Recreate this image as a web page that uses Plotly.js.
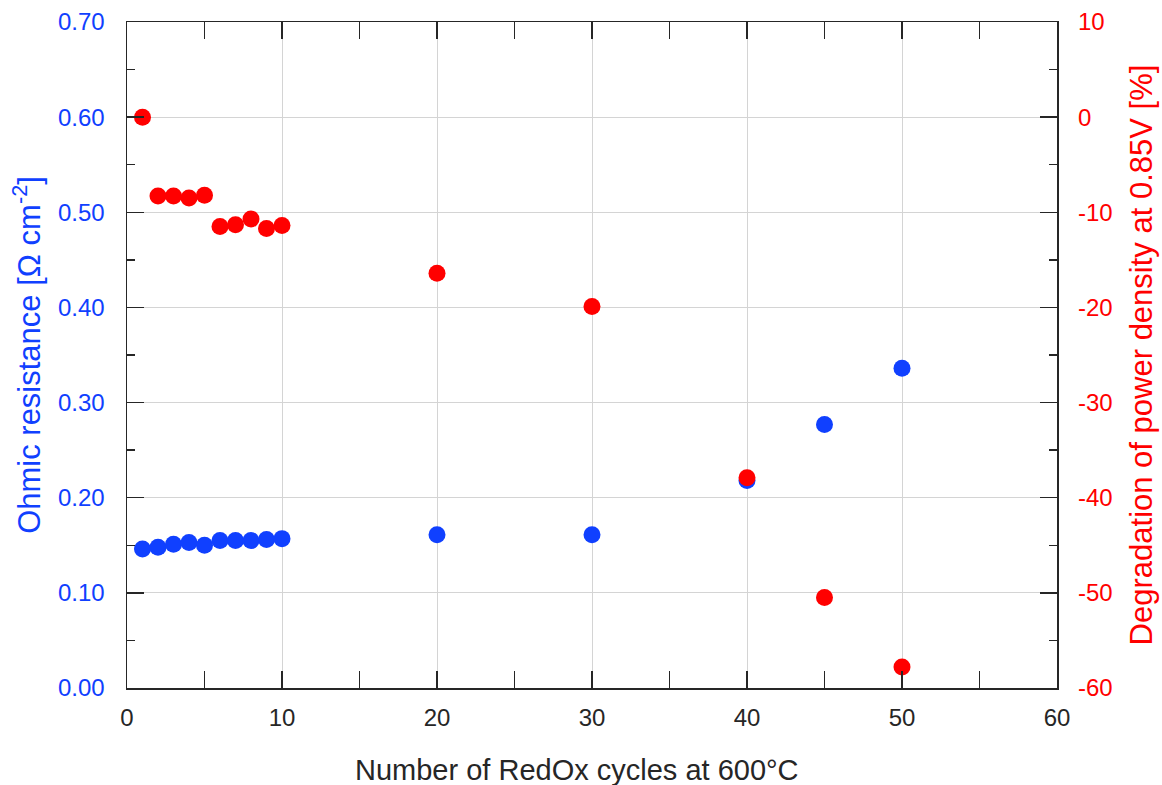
<!DOCTYPE html>
<html>
<head>
<meta charset="utf-8">
<script src="https://cdn.plot.ly/plotly-3.0.1.min.js"></script>
<style>html,body{margin:0;padding:0;background:#fff;}#chart{width:1162px;height:785px;}</style>
</head>
<body>
<div id="chart"></div>
<script>
const cycles = [1, 2, 3, 4, 5, 6, 7, 8, 9, 10, 20, 30, 40, 45, 50];
const ohmicResistance = [0.146, 0.148, 0.151, 0.153, 0.150, 0.155, 0.155, 0.155, 0.156, 0.157, 0.161, 0.161, 0.218, 0.277, 0.336];
const powerDegradation = [0.0, -8.3, -8.3, -8.5, -8.2, -11.5, -11.3, -10.7, -11.7, -11.4, -16.4, -19.9, -37.9, -50.5, -57.8];
const rightTickVals = [-60, -50, -40, -30, -20, -10, 0, 10];
const rightTickText = ['-60', '-50', '-40', '-30', '-20', '-10', '0', '10'];
const xTitle = 'Number of RedOx cycles at 600°C';
const yTitle = 'Ohmic resistance [Ω cm<sup>-2</sup>]';
const y2Title = 'Degradation of power density at 0.85V [%]';

const BLUE = '#1040ff';
const RED = '#ff0000';
const AX = '#262626';
const FONT = '"Liberation Sans", Arial, Helvetica, sans-serif';

const traces = [
  {x: cycles, y: ohmicResistance, type: 'scatter', mode: 'markers', yaxis: 'y',
   marker: {color: BLUE, size: 17}, name: 'Ohmic resistance'},
  {x: cycles, y: powerDegradation, type: 'scatter', mode: 'markers', yaxis: 'y2',
   marker: {color: RED, size: 17}, name: 'Degradation'}
];

const layout = {
  width: 1162, height: 785,
  margin: {l: 127, r: 105, t: 22, b: 97, pad: 0},
  paper_bgcolor: '#fff', plot_bgcolor: '#fff',
  showlegend: false,
  font: {family: FONT, color: AX},
  xaxis: {
    range: [0, 60], tick0: 0, dtick: 10, ticks: 'inside', ticklen: 17, tickwidth: 1.5, tickcolor: AX,
    showline: true, linecolor: AX, linewidth: 1.5, mirror: 'allticks',
    showgrid: true, gridcolor: '#d4d4d4', gridwidth: 1, zeroline: false,
    tickfont: {size: 24, color: AX, family: FONT}, ticklabelstandoff: 8,
    minor: {dtick: 5, ticks: 'inside', ticklen: 8, tickwidth: 1.5, tickcolor: AX, showgrid: false}
  },
  yaxis: {
    range: [0, 0.7], tick0: 0, dtick: 0.1, tickformat: '.2f', ticks: 'inside', ticklen: 17, tickwidth: 1.5, tickcolor: AX,
    showline: true, linecolor: AX, linewidth: 1.5, mirror: 'allticks',
    showgrid: true, gridcolor: '#d4d4d4', gridwidth: 1, zeroline: false,
    tickfont: {size: 24, color: BLUE, family: FONT}, ticklabelstandoff: 16,
    minor: {dtick: 0.05, ticks: 'inside', ticklen: 8, tickwidth: 1.5, tickcolor: AX, showgrid: false},
    title: {text: yTitle, font: {size: 31, color: BLUE, family: FONT}, standoff: 8}
  },
  yaxis2: {
    overlaying: 'y', side: 'right', range: [-60, 10],
    tickmode: 'array', tickvals: rightTickVals, ticktext: rightTickText,
    ticks: '', showline: false, showgrid: false, zeroline: false,
    tickfont: {size: 24, color: RED, family: FONT}, ticklabelstandoff: 20,
    title: {text: y2Title, font: {size: 31, color: RED, family: FONT}, standoff: 18}
  },
  annotations: [{
    text: xTitle, xref: 'paper', yref: 'paper', x: 0.484, y: -0.123,
    xanchor: 'center', yanchor: 'middle', showarrow: false,
    font: {size: 29, color: AX, family: FONT}
  }]
};

Plotly.newPlot('chart', traces, layout, {displayModeBar: false, staticPlot: true});
</script>
</body>
</html>
